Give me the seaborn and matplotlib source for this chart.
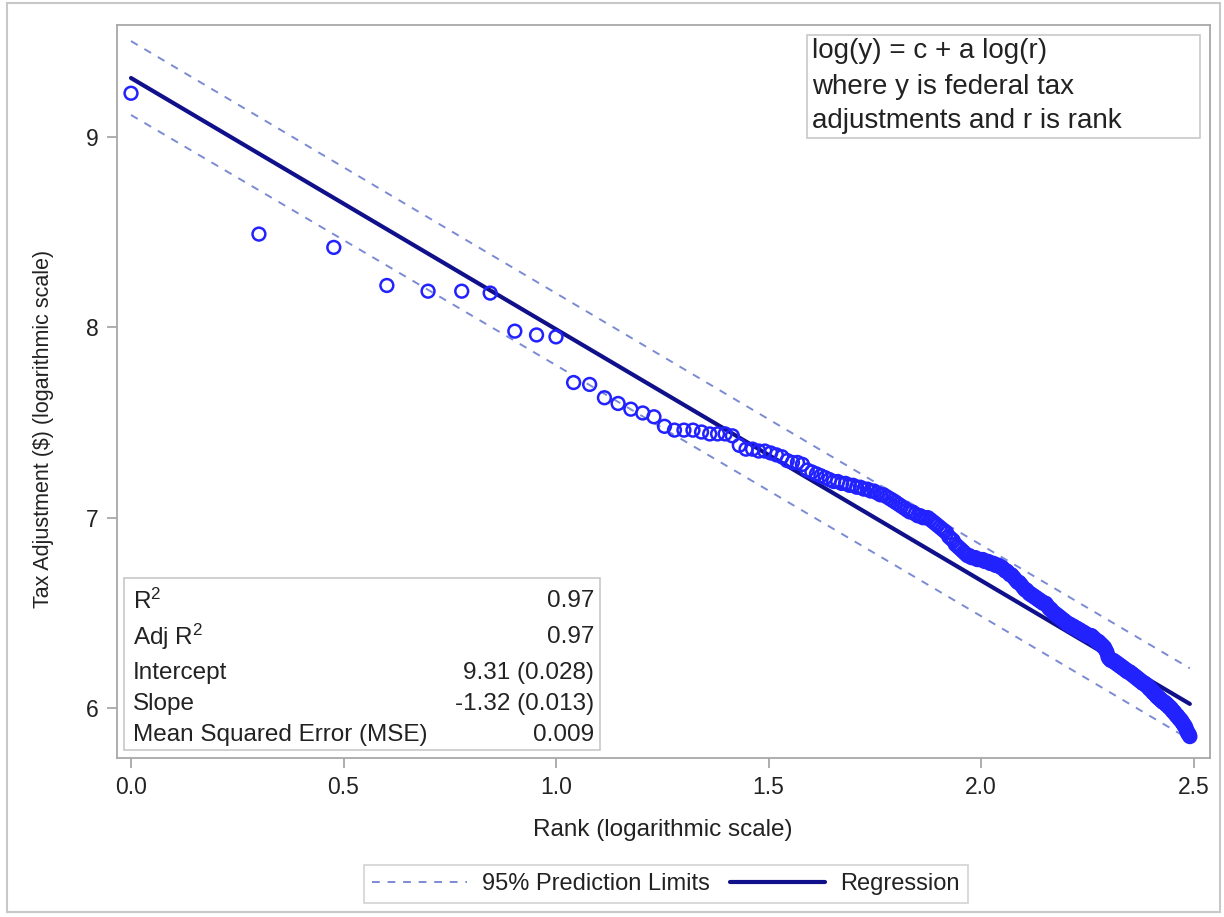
import numpy as np
import pandas as pd
import matplotlib
matplotlib.use("Agg")
import matplotlib.pyplot as plt
from matplotlib.patches import Rectangle
from matplotlib.lines import Line2D
import seaborn as sns

# ---------------- data (log10 of tax adjustment, ordered by rank 1..310) ----------------
log_tax = [
    9.23, 8.49, 8.42, 8.22, 8.19, 8.19, 8.18, 7.98, 7.96, 7.95,
    7.71, 7.70, 7.63, 7.60, 7.57, 7.55, 7.53, 7.48, 7.46, 7.46,
    7.46, 7.45, 7.44, 7.44, 7.44, 7.43, 7.38, 7.36, 7.36, 7.35,
    7.35, 7.34, 7.33, 7.32, 7.30, 7.29, 7.29, 7.28, 7.25, 7.24,
    7.23, 7.22, 7.21, 7.20, 7.19, 7.19, 7.18, 7.18, 7.17, 7.17,
    7.16, 7.16, 7.15, 7.15, 7.14, 7.14, 7.13, 7.12, 7.12, 7.11,
    7.10, 7.09, 7.08, 7.07, 7.06, 7.05, 7.04, 7.03, 7.03, 7.02,
    7.01, 7.01, 7.00, 7.00, 7.00, 6.99, 6.98, 6.97, 6.96, 6.95,
    6.94, 6.93, 6.92, 6.90, 6.89, 6.88, 6.86, 6.85, 6.84, 6.83,
    6.82, 6.81, 6.80, 6.80, 6.79, 6.79, 6.79, 6.78, 6.78, 6.78,
    6.78, 6.77, 6.77, 6.77, 6.76, 6.76, 6.76, 6.75, 6.75, 6.75,
    6.74, 6.74, 6.73, 6.72, 6.72, 6.71, 6.70, 6.70, 6.69, 6.68,
    6.67, 6.66, 6.66, 6.65, 6.64, 6.63, 6.62, 6.62, 6.61, 6.60,
    6.60, 6.59, 6.59, 6.58, 6.58, 6.57, 6.57, 6.56, 6.56, 6.55,
    6.55, 6.55, 6.54, 6.53, 6.52, 6.52, 6.51, 6.50, 6.50, 6.49,
    6.49, 6.48, 6.48, 6.47, 6.47, 6.46, 6.46, 6.45, 6.45, 6.44,
    6.44, 6.44, 6.43, 6.43, 6.43, 6.42, 6.42, 6.42, 6.41, 6.41,
    6.41, 6.40, 6.40, 6.40, 6.39, 6.39, 6.39, 6.38, 6.38, 6.38,
    6.38, 6.38, 6.37, 6.37, 6.36, 6.36, 6.35, 6.35, 6.35, 6.34,
    6.34, 6.33, 6.33, 6.32, 6.32, 6.31, 6.30, 6.29, 6.27, 6.26,
    6.26, 6.25, 6.25, 6.25, 6.25, 6.24, 6.24, 6.24, 6.23, 6.23,
    6.23, 6.22, 6.22, 6.22, 6.21, 6.21, 6.21, 6.20, 6.20, 6.20,
    6.19, 6.19, 6.19, 6.19, 6.18, 6.18, 6.18, 6.17, 6.17, 6.17,
    6.16, 6.16, 6.16, 6.15, 6.15, 6.15, 6.14, 6.14, 6.14, 6.13,
    6.13, 6.13, 6.13, 6.12, 6.12, 6.12, 6.11, 6.11, 6.10, 6.10,
    6.10, 6.09, 6.09, 6.08, 6.08, 6.08, 6.07, 6.07, 6.06, 6.06,
    6.06, 6.05, 6.05, 6.05, 6.04, 6.04, 6.04, 6.03, 6.03, 6.03,
    6.03, 6.02, 6.02, 6.02, 6.01, 6.01, 6.01, 6.00, 6.00, 6.00,
    5.99, 5.99, 5.98, 5.98, 5.98, 5.97, 5.97, 5.96, 5.96, 5.96,
    5.95, 5.95, 5.94, 5.94, 5.94, 5.93, 5.93, 5.92, 5.92, 5.91,
    5.91, 5.90, 5.90, 5.89, 5.88, 5.87, 5.87, 5.86, 5.86, 5.85,
]

# statistics shown in the chart
stat_labels = ["R$^2$", "Adj R$^2$", "Intercept", "Slope", "Mean Squared Error (MSE)"]
stat_values = ["0.97", "0.97", "9.31 (0.028)", "-1.32 (0.013)", "0.009"]
intercept = 9.31
slope = -1.32
mse = 0.009

x_ticks = [0.0, 0.5, 1.0, 1.5, 2.0, 2.5]
x_tick_labels = ["0.0", "0.5", "1.0", "1.5", "2.0", "2.5"]
y_ticks = [6, 7, 8, 9]
y_tick_labels = ["6", "7", "8", "9"]

note_lines = ["log(y) = c + a log(r)", "where y is federal tax", "adjustments and r is rank"]

# ---------------- derived ----------------
rank = np.arange(1, len(log_tax) + 1)
df = pd.DataFrame({"log_rank": np.log10(rank), "log_tax": log_tax})

xs = df["log_rank"].to_numpy()
n = len(xs)
xbar = xs.mean()
sxx = ((xs - xbar) ** 2).sum()
tcrit = 1.968
fit = intercept + slope * xs
half = tcrit * np.sqrt(mse * (1 + 1 / n + (xs - xbar) ** 2 / sxx))
lines_df = pd.DataFrame({"x": xs, "fit": fit, "upper": fit + half, "lower": fit - half})

# ---------------- style ----------------
sns.set_theme(style="white")
plt.rcParams["font.family"] = ["Liberation Sans", "DejaVu Sans"]
plt.rcParams["mathtext.fontset"] = "custom"
plt.rcParams["mathtext.rm"] = "Liberation Sans"
plt.rcParams["mathtext.it"] = "Liberation Sans:italic"

FS_TICK = 16.5
FS_XLABEL = 17.5
FS_YLABEL = 15.5
FS_BOX = 17.5
FS_NOTE = 20
FS_LEG = 17
TEXT_C = "#222222"
GRID_C = "#a8a8a8"

fig = plt.figure(figsize=(12.24, 9.17), dpi=100)
ax = fig.add_axes([117 / 1224, 1 - 758 / 917, (1210 - 117) / 1224, (758 - 25) / 917])

band_c = "#7b8bd3"
reg_c = "#10108a"
pt_c = "#2222ff"

sns.lineplot(data=lines_df, x="x", y="upper", ax=ax, color=band_c, lw=1.4,
             linestyle=(0, (4, 4)), zorder=2)
sns.lineplot(data=lines_df, x="x", y="lower", ax=ax, color=band_c, lw=1.4,
             linestyle=(0, (4, 4)), zorder=2)
sns.lineplot(data=lines_df, x="x", y="fit", ax=ax, color=reg_c, lw=3.0, zorder=3)
sns.scatterplot(data=df, x="log_rank", y="log_tax", ax=ax, marker="o", s=85,
                facecolor="none", edgecolor=pt_c, linewidth=1.8, zorder=4)

ax.set_xlim((117 - 131) / 425, (1210 - 131) / 425)
ax.set_ylim(6 - (758 - 708) / 190.3, 9 + (137 - 25) / 190.3)
ax.set_xticks(x_ticks)
ax.set_xticklabels(x_tick_labels)
ax.set_yticks(y_ticks)
ax.set_yticklabels(y_tick_labels)
ax.tick_params(axis="both", direction="out", length=7, width=1.3, color=GRID_C,
               labelsize=FS_TICK, labelcolor=TEXT_C, pad=6, bottom=True, left=True)
for sp in ax.spines.values():
    sp.set_color(GRID_C)
    sp.set_linewidth(1.3)


def fx(px):
    return (px - 117) / 1093


def fy(py):
    return (758 - py) / 733


ax.set_xlabel("Rank (logarithmic scale)", fontsize=FS_XLABEL, color=TEXT_C)
ax.set_ylabel("Tax Adjustment ($) (logarithmic scale)", fontsize=FS_YLABEL, color=TEXT_C)
ax.xaxis.set_label_coords(fx(663), fy(819))
ax.yaxis.set_label_coords(fx(54), fy(429))

# statistics inset
ax.add_patch(Rectangle((fx(124), fy(750)), fx(600) - fx(124), fy(578) - fy(750),
                       transform=ax.transAxes, facecolor="white", edgecolor="#c8c8c8",
                       lw=1.2, zorder=5))
row_y = [601, 637, 673, 704, 735]
for lab, val, py in zip(stat_labels, stat_values, row_y):
    ax.text(fx(133), fy(py), lab, transform=ax.transAxes, ha="left", va="center",
            fontsize=FS_BOX, color=TEXT_C, zorder=6)
    ax.text(fx(594), fy(py), val, transform=ax.transAxes, ha="right", va="center",
            fontsize=FS_BOX, color=TEXT_C, zorder=6)

# note box (upper right)
ax.add_patch(Rectangle((fx(807), fy(138)), fx(1200) - fx(807), fy(35) - fy(138),
                       transform=ax.transAxes, facecolor="white", edgecolor="#c8c8c8",
                       lw=1.2, zorder=5))
for line, py in zip(note_lines, [51, 87, 121]):
    ax.text(fx(812), fy(py), line, transform=ax.transAxes, ha="left", va="center",
            fontsize=FS_NOTE, color=TEXT_C, zorder=6)

# legend below
handles = [Line2D([], [], color=band_c, lw=1.4, linestyle=(0, (4, 4))),
           Line2D([], [], color=reg_c, lw=3.0)]
leg = fig.legend(handles, ["95% Prediction Limits", "Regression"], loc="center",
                 bbox_to_anchor=(666 / 1224, 1 - 884 / 917), ncol=2, frameon=True,
                 fancybox=False, fontsize=FS_LEG, handlelength=4.0, columnspacing=0.85,
                 handletextpad=0.65, borderpad=0.35, borderaxespad=0, labelcolor=TEXT_C)
leg.get_frame().set_edgecolor("#c8c8c8")
leg.get_frame().set_linewidth(1.2)

# outer frame
fig.patches.append(Rectangle((7 / 1224, 1 - 912 / 917), (1220 - 7) / 1224, (912 - 3) / 917,
                             transform=fig.transFigure, fill=False, edgecolor="#c8c8c8", lw=1.5))

fig.savefig("out.png", dpi=100)
